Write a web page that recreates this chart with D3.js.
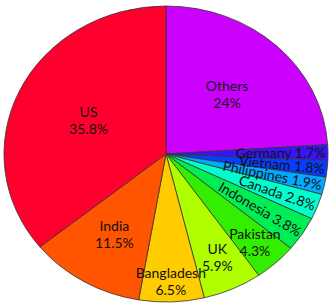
<!DOCTYPE html>
<html>
<head>
<meta charset="utf-8">
<script src="https://cdn.jsdelivr.net/npm/d3@7"></script>
<style>
  body { margin: 0; background: #fff; }
  svg { display: block; }
  text { font-family: Lato, "Open Sans", sans-serif; font-size: 14px; fill: #111; }
</style>
</head>
<body>
<svg id="pie" width="332" height="305"></svg>
<script>
// data, clockwise from 12 o'clock
var countries = ['Others', 'Germany', 'Vietnam', 'Philippines', 'Canada', 'Indonesia',
                 'Pakistan', 'UK', 'Bangladesh', 'India', 'US'];
var shares = [24, 1.7, 1.8, 1.9, 2.8, 3.8, 4.3, 5.9, 6.5, 11.5, 35.8];
var colors = ['#cc00ff', '#3a14f5', '#0a3cff', '#00aaff', '#00ffcc', '#00ee55',
              '#33ee00', '#b0ff00', '#ffcc00', '#ff5500', '#ff002e'];

var svg = d3.select('#pie');
var cx = 166, cy = 154;
var rx = 162, ry = 148;

// where the horizontal labels sit, as a fraction of the radius
var labelPos = { Others: 0.55, US: 0.53, India: 0.63, Bangladesh: 0.86, UK: 0.77, Pakistan: 0.81 };

var rows = countries.map((c, i) => ({ name: c, value: shares[i], color: colors[i] }));

var pie = d3.pie().sort(null).value(d => d.value);
var arcs = pie(rows);

var arc = d3.arc().innerRadius(0).outerRadius(ry);

// ellipse: draw a circle and stretch it sideways
var g = svg.append('g')
  .attr('transform', `translate(${cx},${cy}) scale(${rx / ry},1)`);

g.selectAll('path')
  .data(arcs)
  .enter()
  .append('path')
  .attr('d', arc)
  .style('fill', d => d.data.color)
  .style('stroke', '#333')
  .style('stroke-width', 0.8)
  .attr('vector-effect', 'non-scaling-stroke');

// point on the ellipse for angle a (clockwise from top), at fraction f of radius
function pt(a, f) {
  return [cx + f * rx * Math.sin(a), cy - f * ry * Math.cos(a)];
}

var labels = svg.append('g');
arcs.forEach(d => {
  var mid = (d.startAngle + d.endAngle) / 2;
  var txt = d.data.name + ' ' + d.data.value + '%';
  if (d.data.value < 4) {
    // small slices: text runs along the slice, ending near the rim
    var p = pt(mid, 0.985);
    var rot = Math.atan2(-ry * Math.cos(mid), rx * Math.sin(mid)) * 180 / Math.PI;
    labels.append('text')
      .attr('transform', `translate(${p[0]},${p[1]}) rotate(${rot})`)
      .attr('text-anchor', 'end')
      .attr('dy', '0.36em')
      .text(txt);
  } else {
    var p = pt(mid, labelPos[d.data.name]);
    var t = labels.append('text')
      .attr('text-anchor', 'middle')
      .attr('transform', `translate(${p[0]},${p[1]})`);
    t.append('tspan').attr('x', 0).attr('y', -8.5).attr('dy', '0.36em').text(d.data.name);
    t.append('tspan').attr('x', 0).attr('y', 8.5).attr('dy', '0.36em').text(d.data.value + '%');
  }
});
</script>
</body>
</html>
